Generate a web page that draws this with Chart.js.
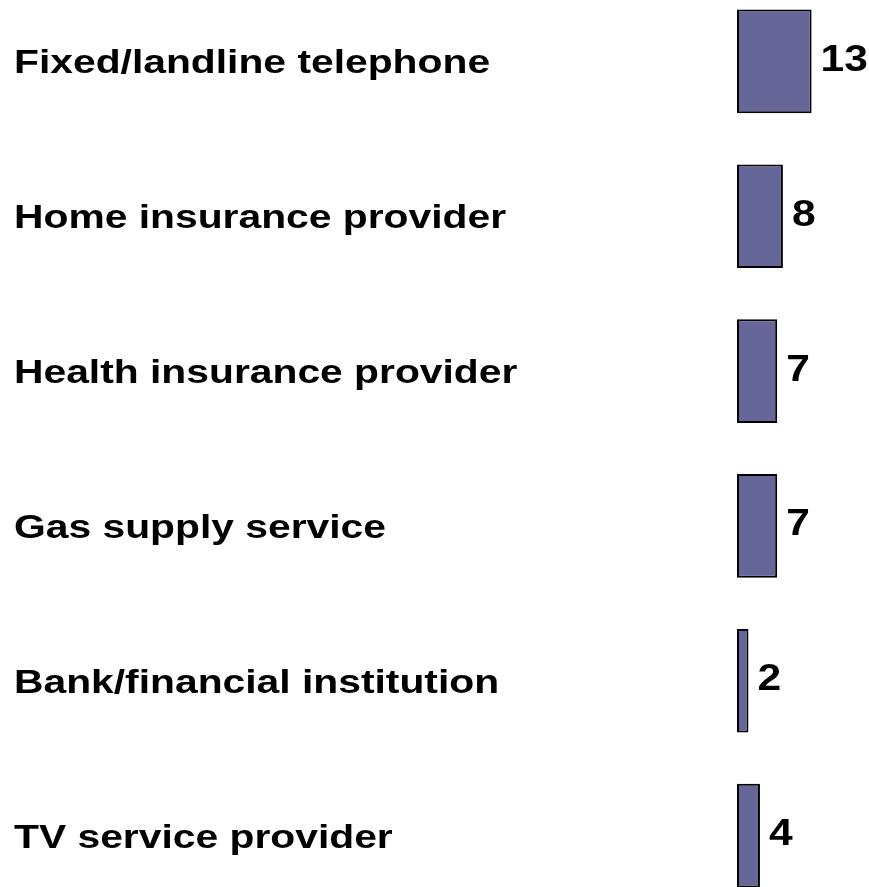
<!DOCTYPE html>
<html>
<head>
<meta charset="utf-8">
<script src="https://cdn.jsdelivr.net/npm/chart.js@4.4.0/dist/chart.umd.min.js"></script>
<style>
  html, body { margin: 0; padding: 0; background: #fff; overflow: hidden; }
  #wrap { position: absolute; left: 0; top: -16px; width: 869px; height: 929px; }
</style>
</head>
<body>
<div id="wrap"><canvas id="chart" width="869" height="929"></canvas></div>
<script>
const categories = [
    'Fixed/landline telephone',
    'Home insurance provider',
    'Health insurance provider',
    'Gas supply service',
    'Bank/financial institution',
    'TV service provider'
];
const values = [13, 8, 7, 7, 2, 4];

const FONT = '"Liberation Sans", Arial, sans-serif';

// the original text is a bit stretched sideways, so draw it scaled
function stretchedText(ctx, text, x, y, sx) {
    ctx.save();
    ctx.translate(x, y);
    ctx.scale(sx, 1);
    ctx.fillText(text, 0, 0);
    ctx.restore();
}

const textLayer = {
    id: 'textLayer',
    afterDatasetsDraw(chart) {
        const ctx = chart.ctx;
        const meta = chart.getDatasetMeta(0);
        const yScale = chart.scales.y;
        ctx.save();
        ctx.fillStyle = '#000';
        ctx.textAlign = 'left';
        ctx.textBaseline = 'alphabetic';

        // category names on the left
        ctx.font = 'bold 34px ' + FONT;
        categories.forEach((label, i) => {
            const y = yScale.getPixelForTick(i);
            stretchedText(ctx, label, 14, y + 12, 1.2);
        });

        // numbers past the bar ends
        ctx.font = 'bold 37px ' + FONT;
        meta.data.forEach((bar, i) => {
            stretchedText(ctx, String(values[i]), bar.x + 9, bar.y + 9.5, 1.15);
        });
        ctx.restore();
    }
};

new Chart(document.getElementById('chart').getContext('2d'), {
    type: 'bar',
    data: {
        labels: categories,
        datasets: [{
            data: values,
            backgroundColor: '#666699',
            borderColor: '#000',
            borderWidth: 2,
            borderSkipped: false,
            barPercentage: 0.67,
            categoryPercentage: 1
        }]
    },
    options: {
        indexAxis: 'y',
        responsive: false,
        animation: false,
        layout: { padding: { left: 737, right: 0, top: 0, bottom: 0 } },
        plugins: {
            legend: { display: false },
            tooltip: { enabled: false }
        },
        scales: {
            x: { display: false, min: 0, max: 23 },
            y: { display: false }
        }
    },
    plugins: [textLayer]
});
</script>
</body>
</html>
